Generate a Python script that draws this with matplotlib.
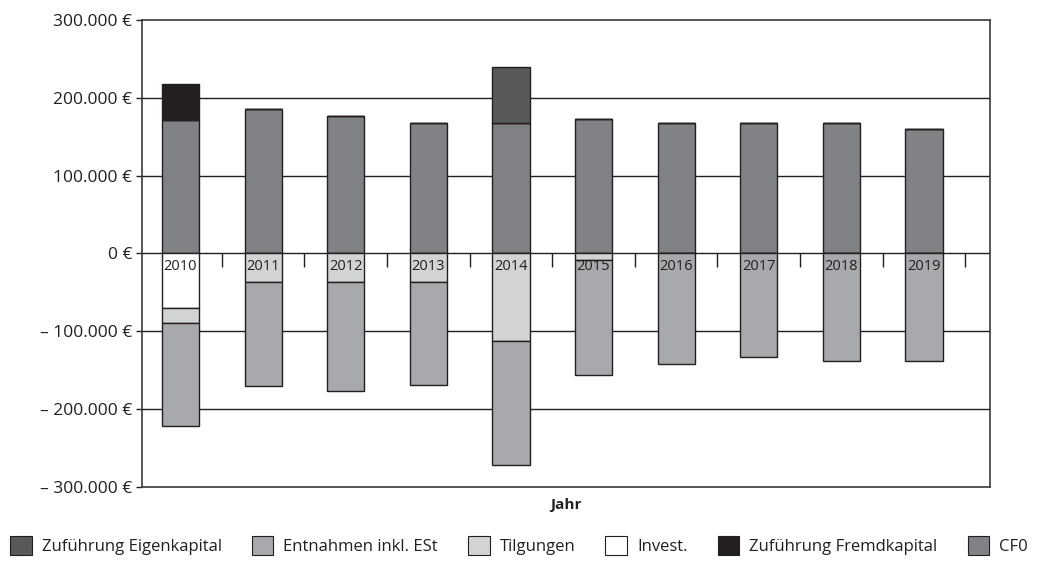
import matplotlib.pyplot as plt
from matplotlib.markers import TICKDOWN
import numpy as np

# Werte in Euro
jahre = ["2010", "2011", "2012", "2013", "2014", "2015", "2016", "2017", "2018", "2019"]
cf0 = [172000, 185000, 176000, 167000, 167000, 173000, 167000, 167000, 167000, 160000]
zufuehrung_ek = [0, 0, 0, 0, 73000, 0, 0, 0, 0, 0]
zufuehrung_fk = [46000, 0, 0, 0, 0, 0, 0, 0, 0, 0]
invest = [-70000, 0, 0, 0, 0, 0, 0, 0, 0, 0]
tilgungen = [-20000, -37000, -37000, -37000, -113000, -9000, 0, 0, 0, 0]
entnahmen = [-132000, -134000, -140000, -132000, -159000, -148000, -142000, -133000, -139000, -139000]

y_ticks = [-300000, -200000, -100000, 0, 100000, 200000, 300000]

FARBEN = {
    "Zuführung Eigenkapital": "#58595b",
    "Entnahmen inkl. ESt": "#a7a9ac",
    "Tilgungen": "#d1d3d4",
    "Invest.": "#ffffff",
    "Zuführung Fremdkapital": "#231f20",
    "CF0": "#808285",
}
KANTE = "#231f20"


def euro(v):
    s = "{:,.0f}".format(abs(v)).replace(",", ".")
    if v < 0:
        return "\u2013 " + s + " \u20ac"
    return s + " \u20ac"


plt.rcParams['font.family'] = ['Open Sans', 'DejaVu Sans']

fig = plt.figure(figsize=(10.38, 5.70), dpi=100)
ax = fig.add_axes([0.1368, 0.1462, 0.8170, 0.8187])

x = np.arange(len(jahre))
w = 0.45
kw = dict(width=w, edgecolor=KANTE, linewidth=1.0, zorder=3)

# positive Seite: CF0 unten, darauf Zuführungen
ax.bar(x, cf0, color=FARBEN["CF0"], **kw)
ax.bar(x, zufuehrung_fk, bottom=cf0, color=FARBEN["Zuführung Fremdkapital"], **kw)
ax.bar(x, zufuehrung_ek, bottom=cf0, color=FARBEN["Zuführung Eigenkapital"], **kw)

# negative Seite: Invest, Tilgungen, Entnahmen
unten = np.array(invest)
ax.bar(x, invest, color=FARBEN["Invest."], **kw)
ax.bar(x, tilgungen, bottom=unten, color=FARBEN["Tilgungen"], **kw)
unten = unten + np.array(tilgungen)
ax.bar(x, entnahmen, bottom=unten, color=FARBEN["Entnahmen inkl. ESt"], **kw)

ax.set_xlim(-0.466, 9.80)
ax.set_ylim(-300000, 300000)
ax.set_yticks(y_ticks)
ax.set_yticklabels([euro(v) for v in y_ticks], fontsize=12.5, color="#231f20")
ax.tick_params(axis="y", length=4, width=1, color=KANTE, direction="out", pad=3)
ax.set_xticks([])

for y in y_ticks[1:-1]:
    ax.axhline(y, color=KANTE, linewidth=1.0, zorder=1)

for s in ax.spines.values():
    s.set_color("#3a3a3a")
    s.set_linewidth(1.2)

# Striche zwischen den Jahren an der Nulllinie
ax.plot(x + 0.5, np.zeros(len(x)), linestyle="none", marker=TICKDOWN,
        markersize=10, markeredgewidth=1.0, color=KANTE, zorder=2)

for i, j in enumerate(jahre):
    ax.annotate(j, (x[i], 0), xytext=(0, -4), textcoords="offset points",
                ha="center", va="top", fontsize=10.5, color="#231f20", zorder=5)

ax.set_xlabel("Jahr", fontsize=11, fontweight="bold", color="#231f20", labelpad=8)

handles = [plt.Rectangle((0, 0), 1, 1, facecolor=c, edgecolor=KANTE, linewidth=0.8)
           for c in FARBEN.values()]
fig.legend(handles, list(FARBEN.keys()), loc="lower center", ncol=6, frameon=False,
           bbox_to_anchor=(0.5, 0.0), fontsize=12, handlelength=1.3, handleheight=1.3,
           handletextpad=0.6, columnspacing=1.8, labelcolor="#231f20")

plt.savefig("out.png", dpi=100)
